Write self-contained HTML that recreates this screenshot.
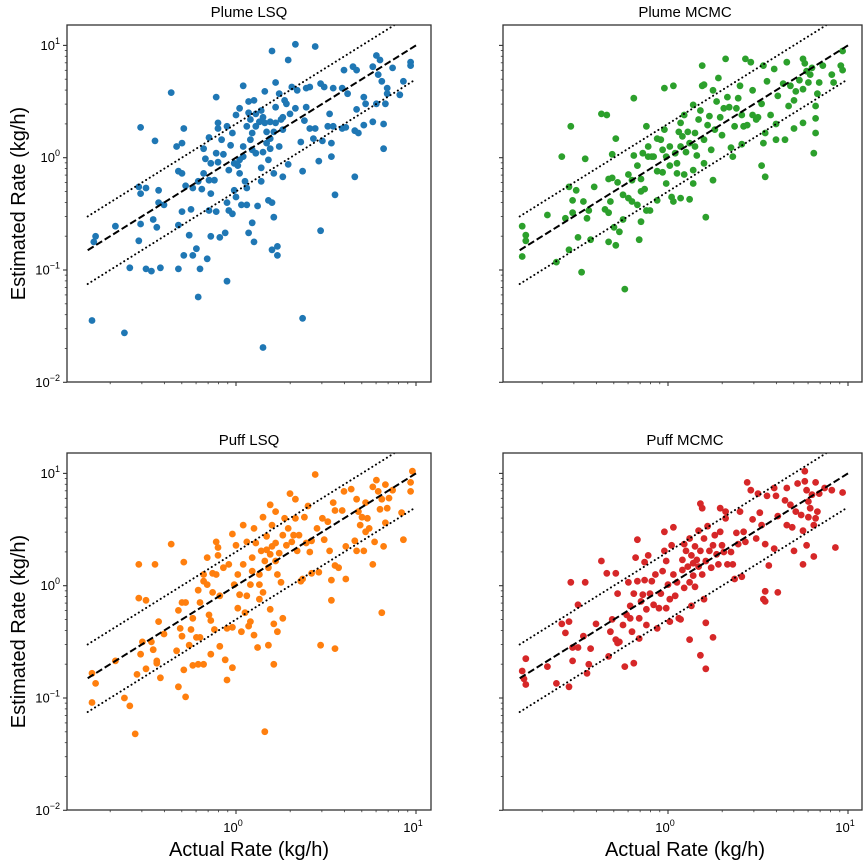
<!DOCTYPE html>
<html><head><meta charset="utf-8"><style>
html,body{margin:0;padding:0;background:#fff;}
svg{display:block;font-family:"Liberation Sans","DejaVu Sans",sans-serif;}
</style></head><body>
<svg id="fig" width="864" height="861" viewBox="0 0 864 861" xmlns="http://www.w3.org/2000/svg"></svg>
<script>
// ---- data (log10 of rate, kg/h) ----
const panelTitles = ["Plume LSQ","Plume MCMC","Puff LSQ","Puff MCMC"];
const panelColors = ["#1f77b4","#2ca02c","#ff7f0e","#d62728"];
const yTickLabels = ["-2","-1","0","1"];
const xTickLabels = ["0","1"];
const refMin = 0.15, refMax = 10;

const plumeLsqActualLog = [-0.80,-0.62,-0.79,-0.78,-0.67,-0.59,-0.54,-0.53,-0.54,-0.53,-0.50,-0.53,-0.50,-0.47,-0.45,-0.46,-0.44,-0.43,-0.43,-0.42,-0.40,-0.36,-0.33,-0.30,-0.29,-0.32,-0.30,-0.30,-0.32,-0.32,-0.29,-0.28,-0.26,-0.25,-0.24,-0.24,-0.22,-0.21,-0.20,-0.19,-0.21,-0.18,-0.18,-0.17,-0.16,-0.15,-0.15,-0.14,-0.15,-0.14,-0.12,-0.11,-0.11,-0.11,-0.10,-0.10,-0.10,-0.14,-0.09,-0.08,-0.07,-0.05,-0.05,-0.04,-0.06,-0.05,-0.04,-0.03,-0.02,-0.02,-0.01,-0.01,0,0,0.01,0.02,0.02,0.03,0.04,0.04,0.04,0.06,0.05,0.07,0.06,0.07,0.07,0.08,0.08,0.09,0.09,0.10,0.10,0.11,0.11,0.12,0.13,0.14,0.14,0.15,0.15,0.16,0.17,0.17,0.18,0.18,0.19,0.19,0.20,0.20,0.20,0.21,0.21,0.21,0.22,0.22,0.23,0.23,0.24,0.24,0.25,0.26,0.26,0.27,0.28,0.29,0.29,0.30,0.31,0.33,0.33,0.34,0.36,0.37,0.37,0.38,0.39,0.39,0.41,0.41,0.43,0.44,0.44,0.46,0.47,0.47,0.48,0.49,0.51,0.52,0.53,0.53,0.54,0.54,0.55,0.59,0.59,0.60,0.61,0.62,0.65,0.66,0.66,0.67,0.67,0.68,0.71,0.71,0.72,0.76,0.76,0.78,0.78,0.79,0.80,0.81,0.82,0.82,0.83,0.84,0.84,0.87,0.91,0.93,0.97,0.97,0.11,0.14,0.16,0.19,0.09,0.06,0.22,0.26,0.02,0.15];
const plumeLsqEstLog = [-1.45,-1.56,-0.75,-0.70,-0.61,-0.98,-0.74,0.27,-0.26,-0.32,-0.27,-0.59,-0.99,-1.01,0.15,-0.55,-0.62,-0.29,-0.40,-0.98,-0.42,0.58,0.10,0.13,0.26,-0.12,-0.14,-0.48,-0.60,-0.99,-0.87,-0.25,-0.69,-0.46,-0.87,-0.27,-0.81,-1.24,-0.99,-0.28,-0.21,0.08,-0.14,-0.01,-0.90,-0.20,0.18,-0.05,-0.47,-0.32,-0.20,0.54,-0.48,0.04,0.31,0.26,-0.04,-0.70,-0.71,0.16,0.03,0.28,-0.40,-0.47,-0.67,-1.10,-0.11,0.11,0.22,-0.50,-0.05,-0.29,-0.35,0.38,-0.07,0.44,-0.14,-0.42,0.64,0.10,0.01,-0.42,-0.21,-0.67,-0.27,0.50,0.40,0.16,0.34,0.22,-0.58,-0.75,0.51,0.28,0.04,-0.43,0.32,-0.09,-0.21,0.36,-1.69,0.59,0.23,0.13,-0.38,-0.02,0.32,0.08,0.95,-0.82,-0.40,-0.14,0.23,-0.53,0.67,0.45,-0.79,-0.87,0.10,0.57,0.34,-0.17,0.25,0.51,0.48,-0.06,0.87,0.39,0.63,1.01,0.44,0.60,0.14,-0.12,-1.43,0.33,0.45,0.62,0.63,0.26,0.17,0.99,0.26,-0.03,-0.65,0.66,0.15,0.63,0.28,0.39,0.01,0.13,0.62,0.28,-0.33,0.62,0.26,0.78,0.27,0.57,0.81,0.24,-0.17,0.78,0.43,0.22,0.54,0.29,0.48,0.32,0.81,0.91,0.48,0.74,0.87,0.68,0.08,0.30,0.48,0.57,0.62,0.80,0.56,0.68,0.85,0.82,0.39,0.42,0.31,0.17,0.07,0.28,0.31,0.36,-0.02,0.05];

const plumeMcmcActualLog = [-0.81,-0.79,-0.79,-0.81,-0.67,-0.62,-0.59,-0.57,-0.55,-0.55,-0.54,-0.53,-0.53,-0.51,-0.50,-0.48,-0.47,-0.46,-0.45,-0.44,-0.43,-0.41,-0.37,-0.34,-0.35,-0.33,-0.33,-0.32,-0.33,-0.31,-0.31,-0.30,-0.29,-0.28,-0.29,-0.27,-0.25,-0.25,-0.24,-0.22,-0.22,-0.20,-0.20,-0.19,-0.19,-0.17,-0.17,-0.16,-0.15,-0.15,-0.15,-0.14,-0.13,-0.12,-0.12,-0.11,-0.11,-0.10,-0.09,-0.08,-0.06,-0.06,-0.06,-0.04,-0.03,-0.03,-0.02,-0.02,-0.01,-0.01,0.01,0.01,0.02,0.03,0.03,0.04,0.05,0.05,0.06,0.07,0.07,0.07,0.08,0.09,0.09,0.10,0.11,0.12,0.12,0.14,0.14,0.14,0.15,0.15,0.16,0.17,0.18,0.19,0.19,0.20,0.20,0.20,0.21,0.22,0.23,0.24,0.25,0.25,0.26,0.27,0.28,0.29,0.30,0.31,0.32,0.33,0.34,0.35,0.36,0.37,0.38,0.39,0.40,0.41,0.41,0.42,0.43,0.44,0.46,0.47,0.47,0.49,0.50,0.52,0.53,0.53,0.54,0.54,0.55,0.52,0.57,0.59,0.60,0.60,0.61,0.64,0.65,0.66,0.67,0.68,0.70,0.70,0.71,0.73,0.75,0.75,0.75,0.76,0.77,0.78,0.79,0.80,0.81,0.82,0.82,0.82,0.83,0.84,0.86,0.91,0.92,0.96,0.97,0.97];
const plumeMcmcEstLog = [-0.61,-0.69,-0.74,-0.88,-0.51,-0.93,0.01,-0.54,-0.26,-0.82,0.28,-0.49,-0.38,-0.29,-0.71,-1.02,-0.39,-0.01,-0.54,-0.47,-0.73,-0.26,0.39,0.38,-0.46,-0.49,-0.75,-0.39,-0.19,-0.18,0.03,-0.62,0.17,-0.22,-0.78,-0.66,-0.55,-0.33,-1.17,-0.36,-0.15,-0.39,-0.20,0.53,0.02,-0.07,-0.42,-0.73,-0.30,-0.19,-0.57,0.04,-0.28,-0.47,0.28,0.10,0.01,-0.47,0.01,0.01,0.17,-0.12,-0.38,0.16,0.07,-0.13,0.62,0.25,-0.23,0.01,0.10,-0.07,-0.35,0.64,-0.39,0.04,-0.14,-0.05,0.23,0.10,-0.36,0.31,0.19,-0.15,0.38,0.05,0.23,-0.37,0.13,-0.23,0.47,-0.11,0.22,0.10,0.02,0.34,0.42,0.64,0.82,0.16,0.65,-0.05,-0.53,0.29,0.37,0.07,-0.20,0.60,0.25,0.50,0.71,0.36,0.20,0.44,0.88,0.54,0.45,0.09,0.01,0.28,0.44,0.53,0.64,0.38,0.12,0.28,0.88,0.29,0.85,0.38,0.60,0.34,0.36,-0.07,0.13,0.82,0.22,-0.17,0.68,0.48,0.38,0.79,0.30,0.16,0.55,0.66,0.16,0.85,0.46,0.64,0.51,0.26,0.59,0.69,0.61,0.31,0.88,0.84,0.77,0.67,0.74,0.80,0.04,0.35,0.22,0.46,0.57,0.67,0.82,0.74,0.67,0.82,0.78,0.95];

const puffLsqActualLog = [-0.80,-0.80,-0.78,-0.67,-0.62,-0.59,-0.56,-0.55,-0.54,-0.54,-0.53,-0.52,-0.50,-0.50,-0.47,-0.46,-0.45,-0.44,-0.44,-0.43,-0.42,-0.40,-0.36,-0.33,-0.32,-0.32,-0.31,-0.30,-0.30,-0.29,-0.28,-0.29,-0.28,-0.26,-0.25,-0.24,-0.24,-0.22,-0.21,-0.21,-0.20,-0.20,-0.18,-0.18,-0.18,-0.16,-0.16,-0.15,-0.14,-0.14,-0.13,-0.13,-0.12,-0.11,-0.11,-0.10,-0.10,-0.09,-0.09,-0.07,-0.06,-0.05,-0.05,-0.04,-0.02,-0.02,-0.02,-0.01,0,0.01,0.01,0.02,0.03,0.04,0.04,0.05,0.06,0.06,0.07,0.08,0.08,0.09,0.10,0.10,0.11,0.12,0.13,0.13,0.14,0.15,0.15,0.16,0.17,0.17,0.18,0.18,0.19,0.19,0.20,0.20,0.21,0.21,0.22,0.22,0.23,0.23,0.24,0.25,0.26,0.26,0.27,0.28,0.29,0.30,0.31,0.32,0.33,0.33,0.34,0.35,0.36,0.37,0.38,0.39,0.40,0.41,0.42,0.42,0.44,0.45,0.46,0.47,0.48,0.49,0.51,0.52,0.53,0.53,0.54,0.55,0.55,0.55,0.57,0.59,0.60,0.61,0.61,0.64,0.66,0.67,0.67,0.68,0.69,0.70,0.71,0.72,0.72,0.73,0.74,0.76,0.76,0.77,0.78,0.79,0.80,0.81,0.81,0.82,0.83,0.83,0.84,0.85,0.87,0.92,0.93,0.97,0.97,0.98,0.16,0.19,0.22,0.13,0.09];
const puffLsqEstLog = [-1.04,-0.78,-0.87,-0.67,-1.00,-1.07,-1.32,-0.79,-0.11,0.19,-0.61,-0.50,-0.13,-0.74,-0.50,-0.57,0.19,-0.69,-0.67,-0.32,-0.82,-0.43,0.37,-0.58,-0.22,-0.90,-0.38,-0.45,-0.15,0.21,-0.15,-0.75,-0.99,-0.53,-0.39,-0.29,-0.71,-0.46,-0.70,-0.04,-0.46,-0.15,-0.70,0.04,0.10,0.25,0.01,-0.26,-0.31,-0.61,0.11,-0.06,-0.39,0.39,0.10,0.27,0.34,-0.54,-0.09,0.16,-0.66,-0.84,-0.38,0.19,0.46,-0.73,-0.37,0.01,0.36,0.10,-0.20,-0.08,-0.41,0.54,0.19,-0.24,-0.09,0.39,-0.36,0.01,-0.32,0.13,-0.44,0.51,0.38,-0.55,-0.12,0.10,0.31,0.61,-0.06,-1.30,0.44,0.32,0.16,-0.53,-0.21,0.72,0.54,0.35,-0.34,-0.70,0.66,0.22,0.10,-0.41,0.29,0.03,0.45,-0.29,0.60,0.36,0.51,0.82,0.39,0.45,0.60,0.77,0.31,0.45,0.04,0.06,0.61,0.38,0.71,0.30,0.40,0.11,0.99,0.51,0.12,-0.53,0.60,0.41,0.57,0.31,0.05,-0.13,0.74,0.67,0.18,-0.56,0.16,0.67,0.84,0.06,0.35,0.86,0.40,0.31,0.77,0.66,0.54,0.61,0.31,0.48,0.74,0.60,0.51,0.19,0.88,0.39,0.94,0.84,0.68,0.77,-0.24,0.35,0.90,0.56,0.69,0.78,0.85,0.65,0.41,0.84,0.92,1.02,0.22,0.28,0.38,0.01,0.25];

const puffMcmcActualLog = [-0.81,-0.80,-0.79,-0.79,-0.67,-0.62,-0.59,-0.57,-0.55,-0.55,-0.54,-0.53,-0.53,-0.50,-0.50,-0.47,-0.46,-0.45,-0.44,-0.43,-0.40,-0.37,-0.34,-0.33,-0.32,-0.31,-0.29,-0.29,-0.28,-0.28,-0.27,-0.24,-0.25,-0.23,-0.22,-0.21,-0.21,-0.20,-0.19,-0.19,-0.18,-0.17,-0.17,-0.16,-0.16,-0.15,-0.14,-0.13,-0.13,-0.12,-0.12,-0.11,-0.10,-0.09,-0.08,-0.07,-0.06,-0.05,-0.04,-0.03,-0.02,-0.02,-0.01,-0.01,0,0.01,0.01,0.02,0.03,0.03,0.04,0.05,0.06,0.07,0.08,0.08,0.09,0.09,0.10,0.11,0.12,0.12,0.12,0.13,0.13,0.14,0.14,0.15,0.15,0.16,0.17,0.17,0.18,0.18,0.18,0.19,0.19,0.20,0.20,0.21,0.21,0.21,0.22,0.23,0.24,0.25,0.25,0.26,0.27,0.28,0.29,0.29,0.30,0.31,0.32,0.32,0.33,0.35,0.36,0.37,0.38,0.39,0.40,0.41,0.42,0.43,0.44,0.46,0.47,0.49,0.50,0.51,0.52,0.53,0.54,0.54,0.54,0.55,0.56,0.59,0.59,0.60,0.61,0.61,0.65,0.66,0.66,0.68,0.69,0.70,0.71,0.72,0.74,0.75,0.75,0.76,0.76,0.77,0.77,0.78,0.78,0.79,0.80,0.81,0.81,0.82,0.82,0.83,0.84,0.87,0.91,0.93,0.97];
const puffMcmcEstLog = [-0.76,-0.83,-0.88,-0.65,-0.72,-0.87,-0.34,-0.42,-0.32,-0.90,0.03,-0.55,-0.67,-0.17,-0.55,-0.45,0.03,-0.78,-0.70,-0.56,-0.34,0.22,0.11,-0.63,-0.41,-0.30,0.11,-0.48,-0.07,-0.51,-0.50,-0.72,-0.35,-0.26,0.03,-0.18,-0.29,-0.41,-0.69,-0.07,0.25,0.41,0.04,-0.29,-0.47,-0.14,-0.08,0.05,0.21,-0.35,-0.21,0.27,-0.07,0.04,-0.17,0.10,-0.38,-0.20,-0.07,0.13,0.48,0.31,0.22,-0.20,0.01,-0.12,-0.32,0.36,0.52,0.10,-0.09,0.03,-0.29,-0.30,0.23,0.14,0.37,-0.02,0.31,0.17,0.03,-0.48,0.42,-0.18,0.27,0.09,0.20,0.35,-0.01,0.23,0.49,0.17,-0.62,0.73,0.31,0.69,0.10,-0.12,0.42,0.22,-0.33,-0.74,0.53,0.31,0.16,0.36,-0.46,0.45,0.28,0.19,0.69,0.48,0.36,0.30,0.66,0.60,0.19,0.30,0.19,0.06,0.47,0.37,0.66,0.08,0.48,0.39,0.92,0.85,0.59,0.42,0.82,0.65,0.54,-0.12,0.37,-0.05,-0.14,0.80,0.18,0.87,0.33,0.80,-0.06,0.62,0.76,0.54,0.87,0.72,0.52,0.31,0.66,0.91,0.63,0.49,0.19,0.93,1.02,0.36,0.85,0.75,0.61,0.69,0.81,0.54,0.26,0.92,0.60,0.66,0.82,0.87,0.85,0.34,0.83];

const actualSets = [plumeLsqActualLog, plumeMcmcActualLog, puffLsqActualLog, puffMcmcActualLog];
const estSets = [plumeLsqEstLog, plumeMcmcEstLog, puffLsqEstLog, puffMcmcEstLog];
const panelNames = ["plume-lsq","plume-mcmc","puff-lsq","puff-mcmc"];

// ---- layout ----
const NS = "http://www.w3.org/2000/svg";
const svg = document.getElementById('fig');
function mk(tag, attrs, parent){const e=document.createElementNS(NS,tag);for(const k in attrs)e.setAttribute(k,attrs[k]);(parent||svg).appendChild(e);return e;}

const frames = [
  {l:67,r:431,t:25,b:382,x0:236,y0:157.7},
  {l:503,r:862,t:25,b:382,x0:668,y0:157.7},
  {l:67,r:431,t:453,b:810,x0:236,y0:585.7},
  {l:503,r:862,t:453,b:810,x0:668,y0:585.7}
];
const XDEC = 180, YDEC = 112.3;

frames.forEach((f, i) => {
  const xs = lv => f.x0 + XDEC * lv;
  const ys = lv => f.y0 - YDEC * lv;
  const g = mk('g', {});
  
  
  const cid = 'clip' + i;
  const cp = mk('clipPath', {id: cid}, g);
  mk('rect', {x: f.l, y: f.t, width: f.r - f.l, height: f.b - f.t}, cp);

  // title
  const tt = mk('text', {x: (f.l + 431 - 67 + f.l) / 2, y: f.t - 8, 'text-anchor': 'middle', 'font-size': 15, fill: '#000'}, g);
  tt.textContent = panelTitles[i];
  
  

  // points
  const pg = mk('g', {'clip-path': 'url(#' + cid + ')'}, g);
  
  
  const ax = actualSets[i], ey = estSets[i];
  for (let k = 0; k < ax.length; k++) {
    const c = mk('circle', {cx: xs(ax[k]).toFixed(1), cy: ys(ey[k]).toFixed(1), r: 3.4, fill: panelColors[i]}, pg);
    
    
  }

  // reference lines
  const lg = mk('g', {'clip-path': 'url(#' + cid + ')'}, g);
  const la = Math.log10(refMin), lb = Math.log10(refMax), l2 = Math.log10(2);
  const dash = mk('line', {x1: xs(la), y1: ys(la), x2: xs(lb), y2: ys(lb), stroke: '#000', 'stroke-width': 2, 'stroke-dasharray': '7,3'}, lg);
  
  
  const up = mk('line', {x1: xs(la), y1: ys(la + l2), x2: xs(lb), y2: ys(lb + l2), stroke: '#000', 'stroke-width': 2, 'stroke-dasharray': '0.1,4.2', 'stroke-linecap': 'round'}, lg);
  
  
  const lo = mk('line', {x1: xs(la), y1: ys(la - l2), x2: xs(lb), y2: ys(lb - l2), stroke: '#000', 'stroke-width': 2, 'stroke-dasharray': '0.1,4.2', 'stroke-linecap': 'round'}, lg);
  
  

  // frame
  const fr = mk('rect', {x: f.l, y: f.t, width: f.r - f.l, height: f.b - f.t, fill: 'none', stroke: '#333', 'stroke-width': 1.3}, g);
  
  

  // y ticks
  const yg = mk('g', {}, g);
  
  
  for (let d = -2; d <= 1; d++) {
    for (let m = 1; m <= 9; m++) {
      const lv = d + Math.log10(m);
      const y = ys(lv);
      if (y < f.t || y > f.b + 0.5) continue;
      const len = m === 1 ? 4 : 2.2;
      mk('line', {x1: f.l - len, y1: y, x2: f.l, y2: y, stroke: '#333', 'stroke-width': m === 1 ? 1.1 : 0.8}, yg);
    }
  }
  if (i === 0 || i === 2) {
    yTickLabels.forEach(lbl => {
      const t = mk('text', {x: f.l - 7, y: ys(+lbl) + 4.5, 'text-anchor': 'end', 'font-size': 13, fill: '#000'}, yg);
      
      
      t.appendChild(document.createTextNode('10'));
      const s = mk('tspan', {dy: -6, 'font-size': 9}, t);
      s.textContent = lbl === '-1' || lbl === '-2' ? '\u2212' + lbl.slice(1) : lbl;
    });
    const yl = mk('text', {x: 0, y: 0, 'text-anchor': 'middle', 'font-size': 20, fill: '#000', transform: 'translate(25,' + ((f.t + f.b) / 2) + ') rotate(-90)'}, g);
    yl.textContent = 'Estimated Rate (kg/h)';
    
    
  }

  // x ticks
  const xg = mk('g', {}, g);
  
  
  for (let d = -1; d <= 1; d++) {
    for (let m = 1; m <= 9; m++) {
      const lv = d + Math.log10(m);
      const x = xs(lv);
      if (x < f.l || x > f.r) continue;
      const len = m === 1 ? 4 : 2.2;
      mk('line', {x1: x, y1: f.b, x2: x, y2: f.b + len, stroke: '#333', 'stroke-width': m === 1 ? 1.1 : 0.8}, xg);
    }
  }
  if (i >= 2) {
    xTickLabels.forEach(lbl => {
      const t = mk('text', {x: xs(+lbl) - 3, y: f.b + 22, 'text-anchor': 'middle', 'font-size': 13, fill: '#000'}, xg);
      
      
      t.appendChild(document.createTextNode('10'));
      const s = mk('tspan', {dy: -6, 'font-size': 9}, t);
      s.textContent = lbl;
    });
    const xl = mk('text', {x: (f.l + f.l + 364) / 2, y: 856, 'text-anchor': 'middle', 'font-size': 20, fill: '#000'}, g);
    xl.textContent = 'Actual Rate (kg/h)';
    
    
  }
});
</script>
</body></html>
